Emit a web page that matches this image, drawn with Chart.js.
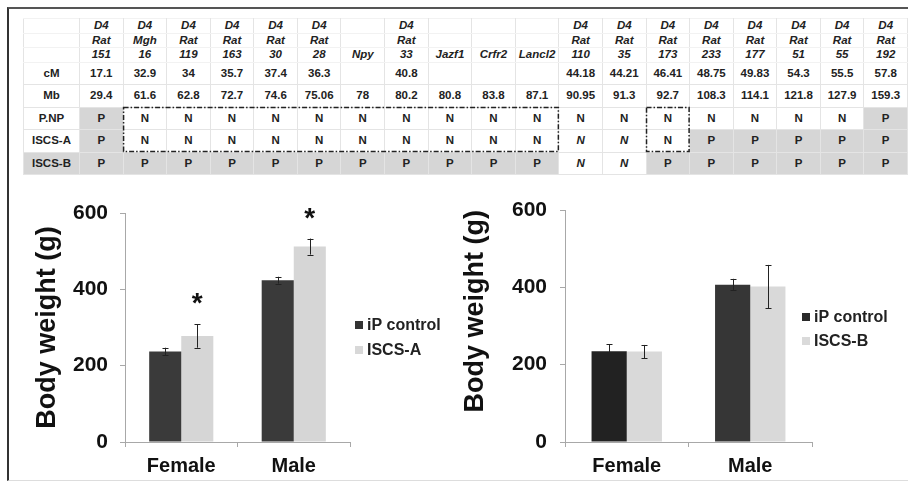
<!DOCTYPE html>
<html><head><meta charset="utf-8">
<script src="https://cdn.jsdelivr.net/npm/chart.js@4.4.1/dist/chart.umd.min.js"></script>
<style>
html,body{margin:0;padding:0;background:#fff;}
#wrap{position:relative;width:908px;height:481px;overflow:hidden;background:#fff;font-family:Arial,"Liberation Sans",sans-serif;}
#frame{position:absolute;left:7px;top:7px;width:905px;height:471px;border-top:2px solid #555;border-left:2px solid #333;border-bottom:1px solid #ddd;}
#tbl{position:absolute;left:23px;top:18px;border-collapse:collapse;table-layout:fixed;width:885px;}
#tbl td{padding:0;text-align:center;vertical-align:middle;font-weight:bold;font-size:11.5px;color:#222;border:1px solid #e4e4e4;overflow:hidden;white-space:nowrap;font-family:Arial,"Liberation Sans",sans-serif;}
#tbl tr.h td{height:13.5px;line-height:13.5px;font-style:italic;border-top-color:#f2f2f2;border-bottom-color:#f2f2f2;}
#tbl tr.d td{height:21.5px;line-height:21.5px;}
#tbl td.g{background:#d6d6d6;}
#tbl td.i{font-style:italic;}
canvas{position:absolute;}
#ov{position:absolute;left:0;top:0;}
</style></head>
<body><div id="wrap">
<div id="frame"></div>
<table id="tbl"></table>
<svg id="ov" width="908" height="481"></svg>
<canvas id="c1" width="440" height="300" style="left:10px;top:180px;width:440px;height:300px"></canvas>
<canvas id="c2" width="453" height="300" style="left:455px;top:180px;width:453px;height:300px"></canvas>
</div>
<script>
// ---------- table data ----------
const markerLine1 = ["D4","D4","D4","D4","D4","D4","","D4","","","","D4","D4","D4","D4","D4","D4","D4","D4"];
const markerLine2 = ["Rat","Mgh","Rat","Rat","Rat","Rat","","Rat","","","","Rat","Rat","Rat","Rat","Rat","Rat","Rat","Rat"];
const markerLine3 = ["151","16","119","163","30","28","Npy","33","Jazf1","Crfr2","Lancl2","110","35","173","233","177","51","55","192"];
const cM = ["17.1","32.9","34","35.7","37.4","36.3","","40.8","","","","44.18","44.21","46.41","48.75","49.83","54.3","55.5","57.8"];
const Mb = ["29.4","61.6","62.8","72.7","74.6","75.06","78","80.2","80.8","83.8","87.1","90.95","91.3","92.7","108.3","114.1","121.8","127.9","159.3"];
const strainNames = ["P.NP","ISCS-A","ISCS-B"];
// 'n' = italic N
const genoPNP  = ["P","N","N","N","N","N","N","N","N","N","N","N","N","N","N","N","N","N","P"];
const genoISCSA= ["P","N","N","N","N","N","N","N","N","N","N","n","n","N","P","P","P","P","P"];
const genoISCSB= ["P","P","P","P","P","P","P","P","P","P","P","n","n","P","P","P","P","P","P"];
const shadedLabels = ["ISCS-B"];
const dashedBoxes = [{rows:[0,1],cols:[1,10]},{rows:[0,1],cols:[13,13]}];

// ---------- chart data ----------
const categories = ["Female","Male"];
const seriesLabelsA = ["iP control","ISCS-A"];
const ipControlA = [237, 424];
const ipControlAErr = [10, 9];
const iscsA = [278, 512];
const iscsAErr = [31, 21];
const iscsASig = [true, true];
const seriesLabelsB = ["iP control","ISCS-B"];
const ipControlB = [235, 407];
const ipControlBErr = [18, 15];
const iscsB = [234, 402];
const iscsBErr = [17, 56];
const yTickValues = [0, 200, 400, 600];

// ---------- build table ----------
(function(){
  const t = document.getElementById('tbl');
  let html = '<colgroup><col style="width:56px">';
  for (let i=0;i<markerLine3.length;i++) html += '<col>';
  html += '</colgroup>';
  [markerLine1,markerLine2,markerLine3].forEach(line=>{
    html += '<tr class="h"><td></td>' + line.map(s=>'<td>'+s+'</td>').join('') + '</tr>';
  });
  html += '<tr class="d"><td>cM</td>' + cM.map(s=>'<td>'+s+'</td>').join('') + '</tr>';
  html += '<tr class="d"><td>Mb</td>' + Mb.map(s=>'<td>'+s+'</td>').join('') + '</tr>';
  [genoPNP,genoISCSA,genoISCSB].forEach((g,r)=>{
    const nm = strainNames[r];
    html += '<tr class="d geno"><td' + (shadedLabels.includes(nm)?' class="g"':'') + '>' + nm + '</td>' +
      g.map(v=>{
        if (v==='P') return '<td class="g">P</td>';
        if (v==='n') return '<td class="i">N</td>';
        return '<td>N</td>';
      }).join('') + '</tr>';
  });
  t.innerHTML = html;
  const rows = t.querySelectorAll('tr.geno');
  const svg = document.getElementById('ov');
  const wr = document.getElementById('wrap').getBoundingClientRect();
  dashedBoxes.forEach(b=>{
    const a = rows[b.rows[0]].children[b.cols[0]+1].getBoundingClientRect();
    const z = rows[b.rows[1]].children[b.cols[1]+1].getBoundingClientRect();
    const x0=a.left-wr.left, y0=a.top-wr.top, x1=z.right-wr.left, y1=z.bottom-wr.top;
    const r = document.createElementNS('http://www.w3.org/2000/svg','rect');
    r.setAttribute('x',x0+0.5); r.setAttribute('y',y0+0.5);
    r.setAttribute('width',x1-x0-1); r.setAttribute('height',y1-y0-1);
    r.setAttribute('fill','none'); r.setAttribute('stroke','#222');
    r.setAttribute('stroke-width','1.5'); r.setAttribute('stroke-dasharray','5,2,1.5,2');
    svg.appendChild(r);
  });
})();

// ---------- charts ----------
const FAM = 'Arial, "Liberation Sans", sans-serif';
const errorBars = {
  id:'errorBars',
  afterDatasetsDraw(chart){
    const ctx = chart.ctx, ys = chart.scales.y;
    chart.data.datasets.forEach((ds,i)=>{
      if (!ds.errors) return;
      const meta = chart.getDatasetMeta(i);
      meta.data.forEach((bar,j)=>{
        const v = ds.data[j], e = ds.errors[j];
        const yt = ys.getPixelForValue(v+e), yb = ys.getPixelForValue(v-e);
        const x = Math.round(bar.x)+0.5;
        ctx.save();
        ctx.strokeStyle = '#222'; ctx.lineWidth = 1;
        ctx.beginPath();
        ctx.moveTo(x,yt); ctx.lineTo(x,yb);
        ctx.moveTo(x-3,Math.round(yt)+0.5); ctx.lineTo(x+3,Math.round(yt)+0.5);
        ctx.moveTo(x-3,Math.round(yb)+0.5); ctx.lineTo(x+3,Math.round(yb)+0.5);
        ctx.stroke();
        if (ds.sig && ds.sig[j]) {
          ctx.fillStyle = '#111';
          ctx.font = 'bold 28px ' + FAM;
          ctx.textAlign = 'center'; ctx.textBaseline = 'alphabetic';
          ctx.fillText('*', bar.x, yt - 28 + 16);
        }
        ctx.restore();
      });
    });
  }
};
const sideLegend = {
  id:'sideLegend',
  afterDraw(chart, args, o){
    const ctx = chart.ctx;
    ctx.save();
    chart.data.datasets.forEach((ds,i)=>{
      const y = o.y + i*o.gap;
      ctx.fillStyle = ds.legendColor;
      ctx.fillRect(o.x, Math.round(y - o.box/2), o.box, o.box);
      ctx.fillStyle = '#222';
      ctx.font = 'bold 16px ' + FAM;
      ctx.textAlign = 'left'; ctx.textBaseline = 'middle';
      ctx.fillText(ds.label, o.x + o.box + 4, y + 1);
    });
    ctx.restore();
  }
};

function makeChart(id, labels, sets, cfg){
  return new Chart(document.getElementById(id), {
    type:'bar',
    data:{ labels: categories, datasets: sets.map((s,k)=>({
      label: labels[k], data: s.data, errors: s.err, sig: s.sig,
      backgroundColor: s.color, legendColor: s.legendColor,
      borderWidth: 0, categoryPercentage: 0.57, barPercentage: 1.0
    }))},
    options:{
      responsive:false, animation:false, devicePixelRatio:1,
      layout:{ padding:{ left:0, top:cfg.top, right:cfg.right, bottom:0 } },
      plugins:{ legend:{display:false}, tooltip:{enabled:false},
        sideLegend:{ x:cfg.legX, y:cfg.legY, gap:cfg.legGap, box:8 } },
      scales:{
        x:{
          grid:{ drawOnChartArea:false, tickLength:5, color:'#a8a8a8', offset:true },
          border:{ color:'#a8a8a8' },
          ticks:{ font:{ size:20, weight:'bold', family:FAM }, color:'#111', padding:7 },
          afterFit(s){ s.height = 38; }
        },
        y:{
          min:0, max:600,
          afterBuildTicks(s){ s.ticks = yTickValues.map(v=>({value:v})); },
          grid:{ drawOnChartArea:false, tickLength:5, color:'#a8a8a8' },
          border:{ color:'#a8a8a8' },
          ticks:{ font:{ size:21, weight:'bold', family:FAM }, color:'#111', padding:cfg.tickPad },
          title:{ display:true, text:'Body weight (g)', color:'#111', align:cfg.titleAlign,
            font:{ size:27, weight:'bold', family:FAM }, padding:{ top:cfg.titlePad, bottom:0 } },
          afterFit(s){ s.width = cfg.yWidth; }
        }
      }
    },
    plugins:[errorBars, sideLegend]
  });
}

makeChart('c1', seriesLabelsA, [
  { data: ipControlA, err: ipControlAErr, color: '#3a3a3a', legendColor:'#333' },
  { data: iscsA, err: iscsAErr, sig: iscsASig, color: '#d6d6d6', legendColor:'#d8d8d8' }
], { top:33, right:100, yWidth:115, tickPad:12, titlePad:21, titleAlign:'center', legX:345, legY:145, legGap:25 });

makeChart('c2', seriesLabelsB, [
  { data: ipControlB, err: ipControlBErr, color: ['#222222','#363636'], legendColor:'#2a2a2a' },
  { data: iscsB, err: iscsBErr, color: '#d9d9d9', legendColor:'#dadada' }
], { top:30, right:96, yWidth:110, tickPad:13, titlePad:4, titleAlign:'end', legX:347, legY:137, legGap:24 });
</script>
</body></html>
